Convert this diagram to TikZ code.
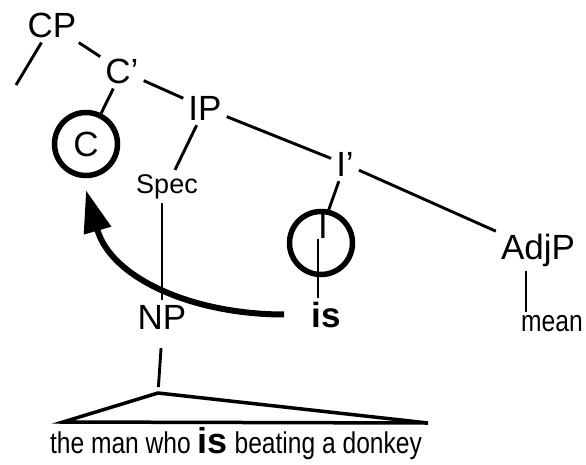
\documentclass[tikz,border=0pt]{standalone}
\usepackage{fontspec}
\setmainfont{Liberation Sans}
\newfontfamily\narrowfont[FakeStretch=0.82]{Liberation Sans}
\usetikzlibrary{arrows.meta}

\newcommand{\catsize}{\fontsize{35}{35}\selectfont}
\newcommand{\specsize}{\fontsize{27}{27}\selectfont}
\newcommand{\wordsize}{\narrowfont\fontsize{30}{30}\selectfont}

\begin{document}
\begin{tikzpicture}[x=1pt, y=1pt,
        cat/.style={font=\catsize, anchor=base, inner sep=5pt},
        branch/.style={line width=2.9pt},
        ring/.style={circle, draw, line width=5.5pt, minimum size=63pt, inner sep=0pt},
        move/.style={line width=6pt, -{Triangle[length=42pt, width=27pt]}}]
        \useasboundingbox (0,0) rectangle (586,-464);

        \coordinate (cpleft) at (16,-85);
        \coordinate (roof) at (158,-393);
        \coordinate (roofl) at (63,-422);
        \coordinate (roofr) at (428,-423);

        \node[cat] (CP) at (52,-37) {CP};
        \node[cat] (Cbar) at (122,-83) {C’};
        \node[cat] (IP) at (205,-120) {IP};
        \node[cat] (Ibar) at (345,-176) {I’};
        \node[font=\specsize, anchor=base, inner sep=4pt] (Spec) at (167,-193) {Spec};
        \node[cat] (NP) at (162,-329) {NP};
        \node[cat] (AdjP) at (538,-259) {AdjP};
        \node[font=\wordsize, anchor=base, inner sep=3pt] (mean) at (552,-331) {mean};
        \node[font=\catsize\bfseries, anchor=base, inner sep=3pt] (is) at (326,-327) {is};
        \node[ring] (C) at (86,-144) {\catsize C};
        \node[ring] (Iring) at (321,-243) {};
        \node[cat, inner sep=1pt] (I) at (323,-238) {I};

        \draw[branch] (CP) -- (cpleft);
        \draw[branch] (CP) -- (Cbar);
        \draw[branch] (Cbar) -- (IP);
        \draw[branch] (Cbar) -- (C);
        \draw[branch] (IP) -- (Spec);
        \draw[branch] (IP) -- (Ibar);
        \draw[branch] (Ibar) -- (I);
        \draw[branch] (Ibar) -- (AdjP);
        \draw[branch] ([xshift=-5pt]I.south) -- ([xshift=-8pt]is.north);
        \draw[branch] (AdjP.south -| mean.west) ++(8pt,0) -- ([xshift=8pt]mean.north west);
        \draw[branch] (NP |- Spec.south) -- (NP.north);
        \draw[branch, shorten <=14pt, shorten >=6pt] (NP.south) -- (roof);
        \draw[line width=3.5pt, line join=miter] (roofl) -- (roof) -- (roofr) -- cycle;

        \node[anchor=base, inner sep=0pt] (words) at (236,-453)
            {\wordsize the man who {\rmfamily\fontsize{36}{36}\selectfont\bfseries is} beating a donkey};

        \draw[move] ([xshift=-24pt]is.west) to[out=180, in=-74] ([yshift=-12pt]C.south);
\end{tikzpicture}
\end{document}
